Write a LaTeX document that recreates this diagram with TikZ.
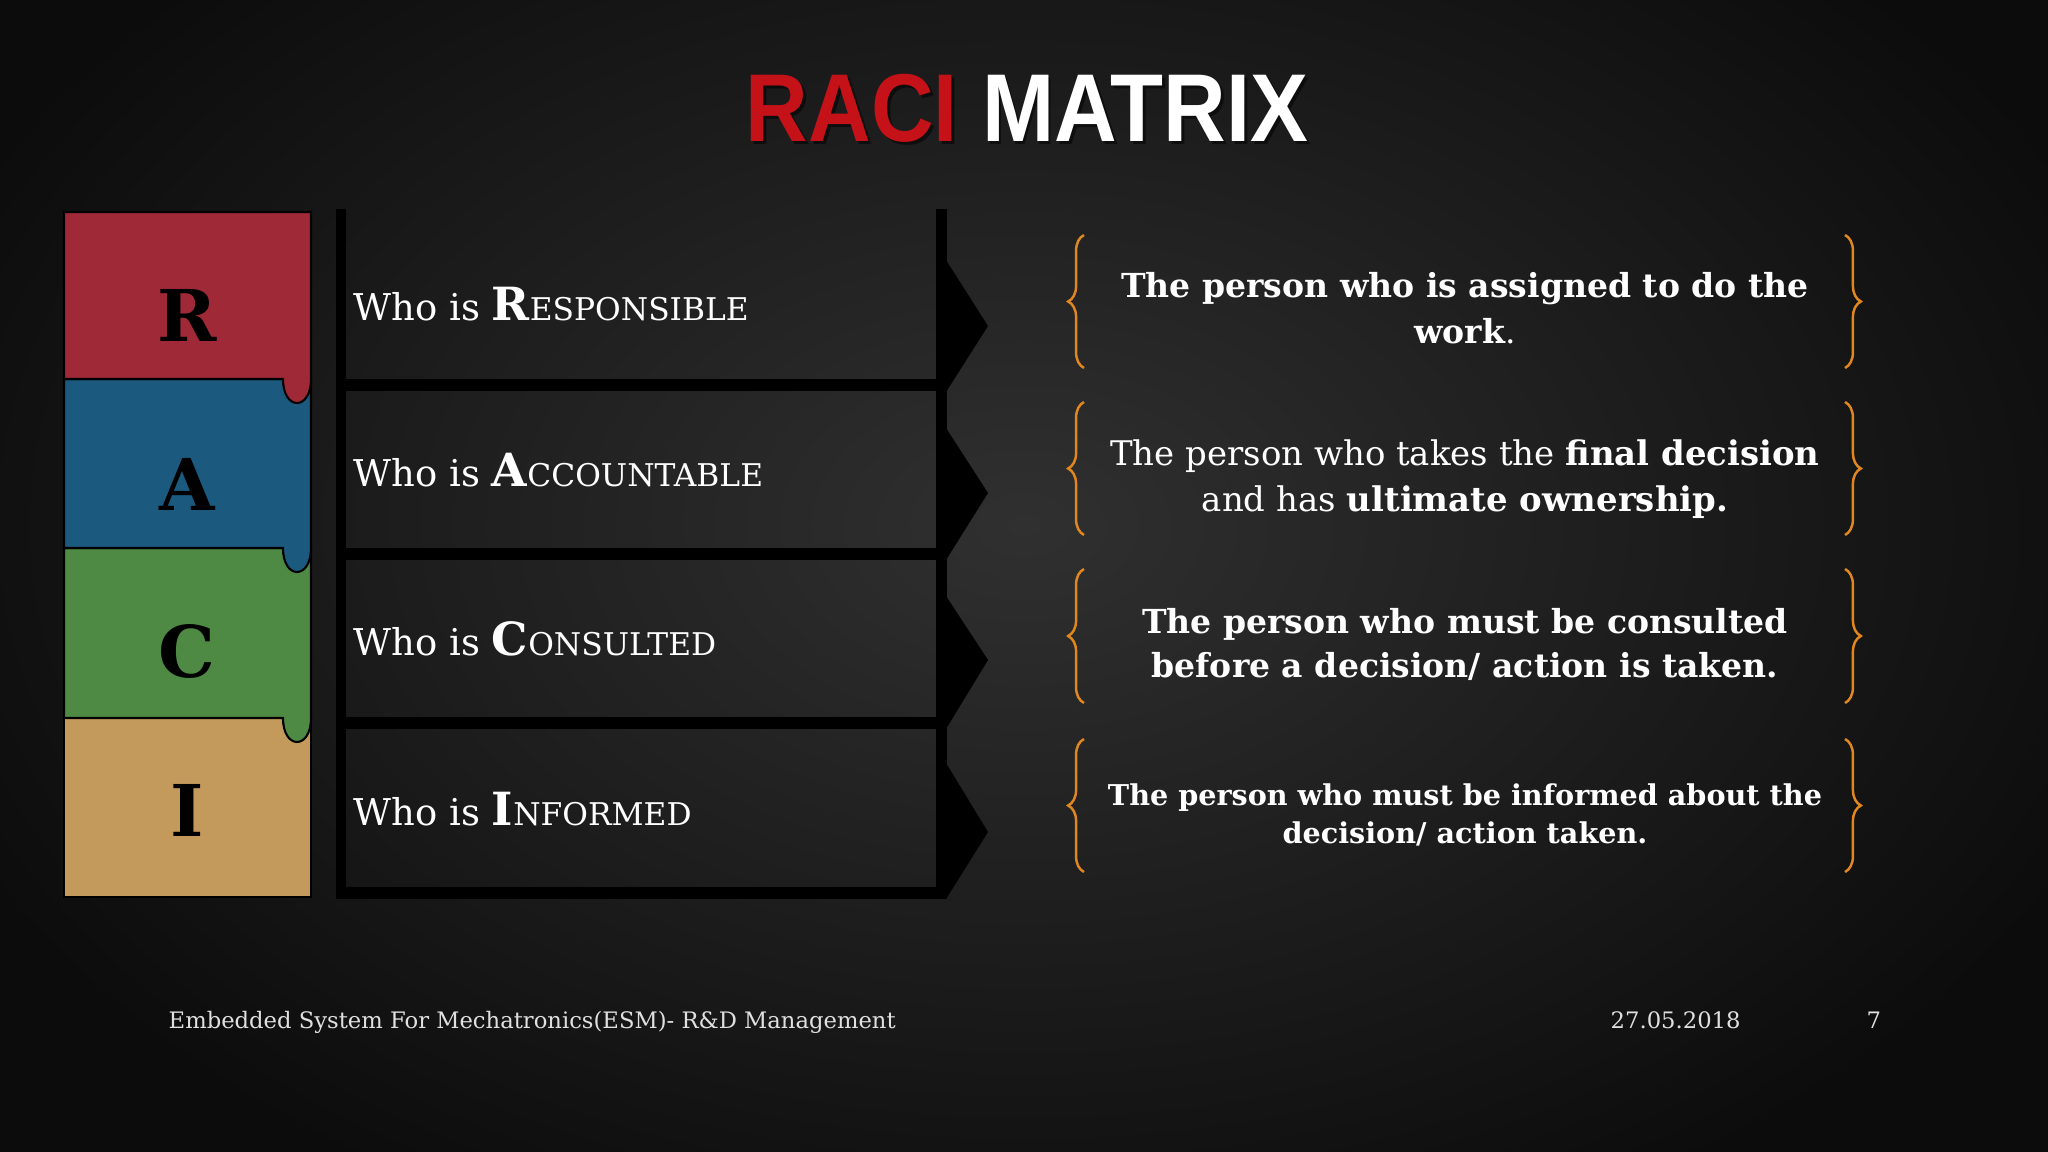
\documentclass[tikz,border=0pt]{standalone}
\usepackage{fontspec}
\setmainfont{DejaVu Serif}
\newfontfamily\titlefont{Liberation Sans}
\usetikzlibrary{decorations.pathreplacing}

\definecolor{raciR}{RGB}{160,41,56}
\definecolor{raciA}{RGB}{27,89,126}
\definecolor{raciC}{RGB}{79,138,69}
\definecolor{raciI}{RGB}{196,154,92}
\definecolor{braceorange}{RGB}{224,135,31}
\definecolor{titlered}{RGB}{196,18,24}
\definecolor{bgin}{RGB}{48,48,48}
\definecolor{bgout}{RGB}{12,12,12}

\newcommand{\racirole}[2]{\fontsize{10.5}{12}\selectfont Who is {\fontsize{13}{14}\selectfont\bfseries #1}{\fontsize{8.9}{11}\selectfont #2}}

\tikzset{
    letterbox/.style = {draw = black, line width = 0.6pt},
    roletext/.style = {text = white, inner sep = 0pt},
    desctext/.style = {text = white, align = center, inner sep = 0pt},
    descbrace/.style = {draw = braceorange, line width = 0.7pt, decorate,
        decoration = {brace, amplitude = 4.5pt}},
    foottext/.style = {text = white!88!black, inner sep = 0pt, font = \fontsize{6.45}{8}\selectfont}
}

\begin{document}
\begin{tikzpicture}[x = 0.01cm, y = -0.01cm]
        \useasboundingbox (0,0) rectangle (2048,1152);
        \shade[inner color = bgin, outer color = bgout] (-150,-250) rectangle (2198,1300);
        % title
        \node[text = black, opacity = 0.5, anchor = base] (titleshadow) at (1030,145)
            {\titlefont\bfseries\fontsize{27.4}{30}\selectfont\scalebox{0.9}[1]{RACI MATRIX}};
        \node[text = white, anchor = base] (title) at (1027,142)
            {\titlefont\bfseries\fontsize{27.4}{30}\selectfont\scalebox{0.9}[1]{\textcolor{titlered}{RACI} MATRIX}};
        % letter boxes, lowest first so the tabs lie on top
        \fill[raciI, letterbox] (64,718) rectangle (311,897);
        \foreach \col/\top/\bot in {raciC/548/718, raciA/379/548, raciR/212/379}
            \fill[\col, letterbox] (64,\top) -- (311,\top) -- (311,\bot)
                .. controls (311,\bot+32) and (283,\bot+32) .. (283,\bot) -- (64,\bot) -- cycle;
        \begin{scope}[every node/.append style = {font = \fontsize{20.3}{22}\selectfont\bfseries, text = black, anchor = base}]
            \foreach \k/\base in {R/342, A/511, C/677, I/836}
                \node (letter\k) at (187,\base) {\k};
        \end{scope}
        % rows
        \fill (336,209) rectangle (346,899);
        \fill (936,209) rectangle (947,899);
        \foreach \y in {379, 548, 717, 887}
            \fill (336,\y) rectangle (947,\y+12);
        \foreach \t/\m/\b in {260/326/392, 428/493/560, 596/660/729, 763/832/899}
            \fill (946,\t) -- (988,\m) -- (946,\b) -- cycle;
        \foreach \k/\rest/\base in {R/ESPONSIBLE/321, A/CCOUNTABLE/487, C/ONSULTED/656, I/NFORMED/825}
            \node[roletext, anchor = base west] (role\k) at (353,\base) {\racirole{\k}{\rest}};
        % braces
        \foreach \t/\b in {235/368, 402/535, 569/703, 739/872} {
            \draw[descbrace] (1084,\b) -- (1084,\t);
            \draw[descbrace] (1845,\t) -- (1845,\b);
        }
        \node[desctext, font = \fontsize{9.4}{13.1}\selectfont\bfseries] (descR) at (1465,308)
            {The person who is assigned to do the\\work{\mdseries.}};
        \node[desctext, font = \fontsize{9.65}{13.1}\selectfont] (descA) at (1465,479)
            {The person who takes the \textbf{final decision}\\and has \textbf{ultimate ownership.}};
        \node[desctext, font = \fontsize{9.4}{12.5}\selectfont\bfseries] (descC) at (1465,644)
            {The person who must be consulted\\before a decision/ action is taken.};
        \node[desctext, font = \fontsize{8.15}{11}\selectfont\bfseries] (descI) at (1465,815)
            {The person who must be informed about the\\decision/ action taken.};
        % footer
        \node[foottext, anchor = base west] (footer) at (168,1028)
            {Embedded System For Mechatronics(ESM)- R\&D Management};
        \node[foottext, anchor = base west] (date) at (1610,1028) {27.05.2018};
        \node[foottext, anchor = base west] (page) at (1866,1028) {7};
    \end{tikzpicture}
\end{document}
